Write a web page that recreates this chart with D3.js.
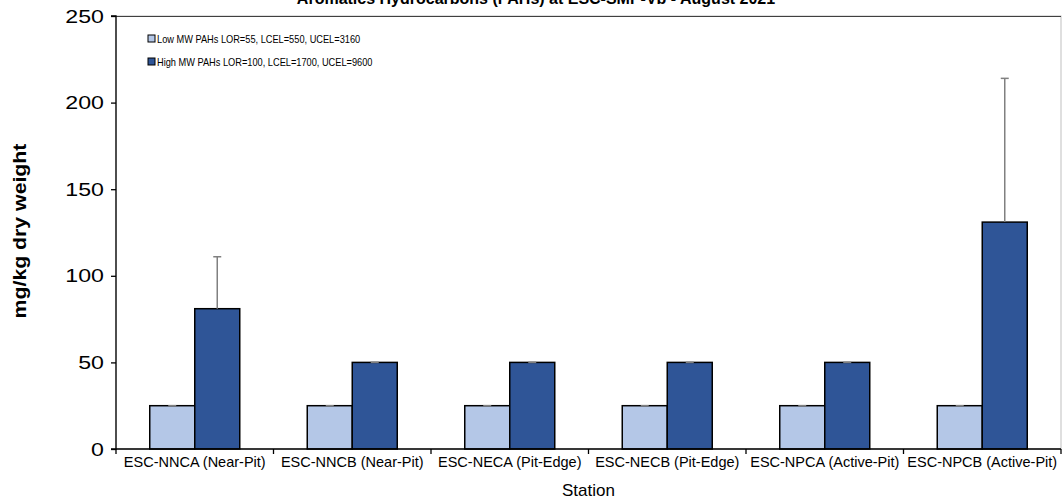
<!DOCTYPE html>
<html><head><meta charset="utf-8">
<script src="https://cdn.jsdelivr.net/npm/d3@7"></script>
<style>body{margin:0;background:#fff}svg{display:block;font-family:"Liberation Sans",Arial,sans-serif}</style>
</head><body><svg id="c" width="1062" height="500"></svg>
<script>
const categories = ["ESC-NNCA (Near-Pit)","ESC-NNCB (Near-Pit)","ESC-NECA (Pit-Edge)","ESC-NECB (Pit-Edge)","ESC-NPCA (Active-Pit)","ESC-NPCB (Active-Pit)"];
const seriesNames = ["Low MW PAHs LOR=55, LCEL=550, UCEL=3160","High MW PAHs LOR=100, LCEL=1700, UCEL=9600"];
const lowValues = [25,25,25,25,25,25];
const highValues = [81,50,50,50,50,131];
const lowErrors = [0,0,0,0,0,0];
const highErrors = [30,0,0,0,0,83];
const yTicks = [0,50,100,150,200,250];
const colors = ["#B4C7E7","#2F5597"];

const svg = d3.select("#c");
const m = {l:116, r:1061, t:16, b:449};
const x = d3.scaleBand().domain(categories).range([m.l,m.r]).paddingInner(0).paddingOuter(0);
const y = d3.scaleLinear().domain([0,250]).range([m.b,m.t]);

// plot border
svg.append("rect").attr("x",m.l).attr("y",m.t).attr("width",m.r-m.l).attr("height",m.b-m.t)
  .attr("fill","none").attr("stroke","#bfbfbf").attr("stroke-width",1);
svg.append("line").attr("x1",m.l).attr("x2",m.r).attr("y1",m.t+0.5).attr("y2",m.t+0.5).attr("stroke","#404040").attr("stroke-width",1);

const data = [lowValues, highValues];
const errs = [lowErrors, highErrors];
const bw = 45;
data.forEach((vals,s)=>{
  svg.append("g").selectAll("rect").data(vals).join("rect")
    .attr("x",(d,i)=>x(categories[i])+x.bandwidth()/2 + (s===0?-bw:0))
    .attr("y",d=>y(d))
    .attr("width",bw)
    .attr("height",d=>m.b-y(d))
    .attr("fill",colors[s]).attr("stroke","#000").attr("stroke-width",1.5);
});
data.forEach((vals,s)=>{
  const g = svg.append("g").attr("stroke","#808080").attr("stroke-width",1.5);
  vals.forEach((v,i)=>{
    const cx = x(categories[i])+x.bandwidth()/2 + (s===0?-bw/2:bw/2);
    const top = y(v+errs[s][i]);
    if (errs[s][i]>0) g.append("line").attr("x1",cx).attr("x2",cx).attr("y1",y(v)).attr("y2",top);
    g.append("line").attr("x1",cx-4).attr("x2",cx+4).attr("y1",top).attr("y2",top);
  });
});

// y axis
const ya = svg.append("g").attr("transform",`translate(${m.l},0)`)
  .call(d3.axisLeft(y).tickValues(yTicks).tickSize(5).tickPadding(0));
ya.selectAll("line,path").attr("stroke","#000").attr("stroke-width",1.3);
ya.select("path").attr("d",`M-5,${m.b}H0V${m.t}H-5`);
ya.selectAll("text").attr("x",null).attr("font-size",19).attr("fill","#000")
  .attr("font-family","Liberation Sans, Arial")
  .attr("transform","translate(-12,0) scale(1.22,1)");

// x axis
const xa = svg.append("g").attr("transform",`translate(0,${m.b})`)
  .call(d3.axisBottom(x).tickSize(0).tickPadding(8));
xa.select("path").attr("stroke","#000").attr("stroke-width",1.3).attr("d",`M${m.l},0H${m.r}`);
xa.selectAll("text").attr("font-size",14.5).attr("fill","#000").attr("font-family","Liberation Sans, Arial");
const bounds = categories.map(c=>x(c)).concat([m.r]);
xa.selectAll(".bt").data(bounds).join("line").attr("class","bt")
  .attr("x1",d=>d).attr("x2",d=>d).attr("y1",0).attr("y2",5).attr("stroke","#000").attr("stroke-width",1.3);

// titles
svg.append("text").attr("x",536).attr("y",4).attr("text-anchor","middle")
  .attr("font-size",16).attr("font-weight","bold").text("Aromatics Hydrocarbons (PAHs) at ESC-SMP-Vb - August 2021");
svg.append("text").attr("transform","translate(26,231) rotate(-90) scale(1.12,1)").attr("text-anchor","middle")
  .attr("font-size",19).attr("font-weight","bold").text("mg/kg dry weight");
svg.append("text").attr("x",(m.l+m.r)/2).attr("y",496).attr("text-anchor","middle")
  .attr("font-size",17).text("Station");

// legend
const lg = svg.append("g");
seriesNames.forEach((n,i)=>{
  const yy = 39 + i*23;
  lg.append("rect").attr("x",148).attr("y",yy-4).attr("width",7).attr("height",7)
    .attr("fill",colors[i]).attr("stroke","#000").attr("stroke-width",1);
  lg.append("text").attr("transform",`translate(157,${yy+4}) scale(0.88,1)`).attr("font-size",10.5).text(n);
});
</script></body></html>
